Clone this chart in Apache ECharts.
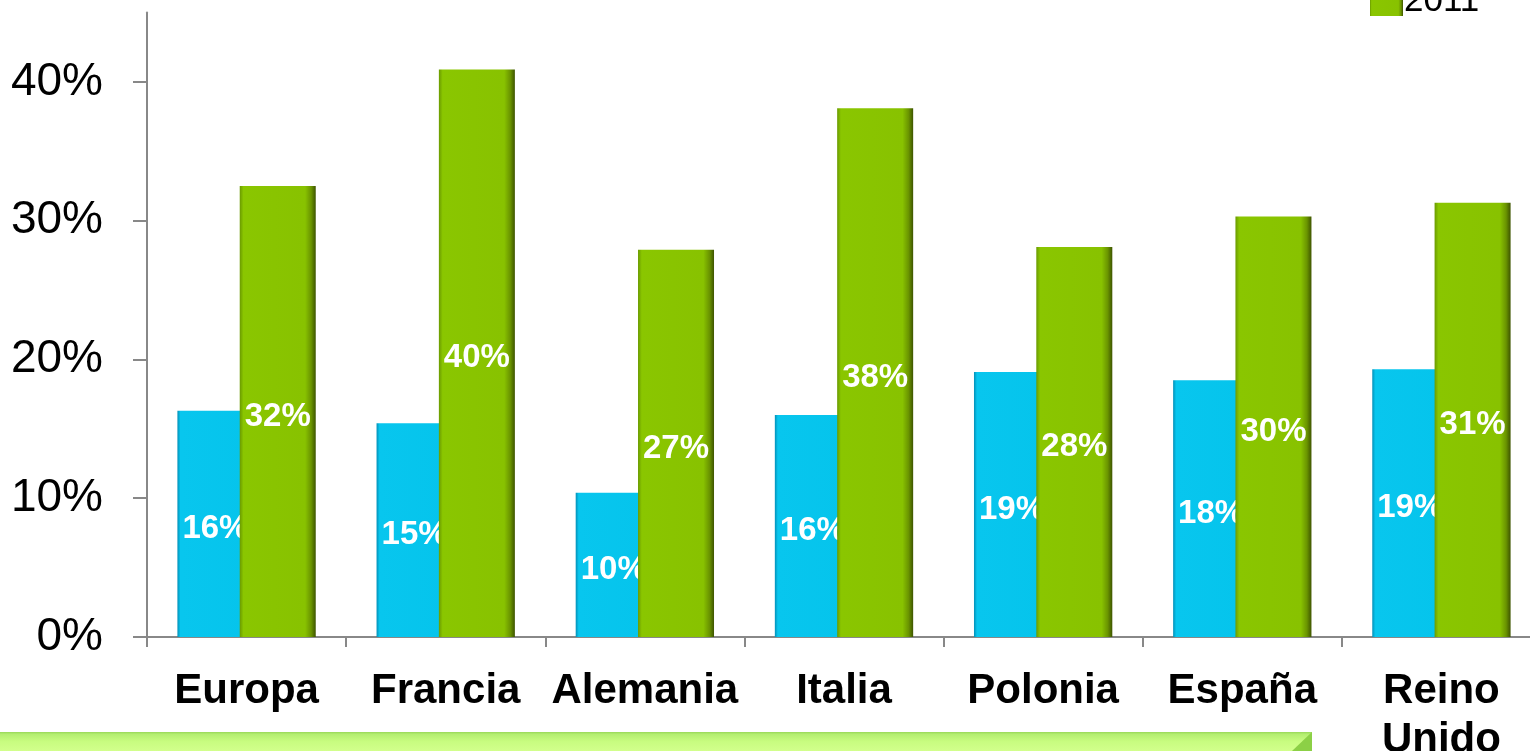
<!DOCTYPE html>
<html>
<head>
<meta charset="utf-8">
<script src="https://cdn.jsdelivr.net/npm/echarts@6/dist/echarts.min.js"></script>
<style>
html,body{margin:0;padding:0;background:#fff;}
#chart{width:1530px;height:751px;}
</style>
</head>
<body>
<div id="chart"></div>
<script>
const categories = ['Europa', 'Francia', 'Alemania', 'Italia', 'Polonia', 'España', 'Reino\nUnido'];
const seriesNames = ['2010', '2011'];
const values2010 = [16.3, 15.4, 10.4, 16.0, 19.1, 18.5, 19.3];
const values2011 = [32.5, 40.9, 27.9, 38.1, 28.1, 30.3, 31.3];
const yTicks = [0, 10, 20, 30, 40];

const FONT = "'Liberation Sans', Arial, sans-serif";
const chart = echarts.init(document.getElementById('chart'));

const blueGrad = new echarts.graphic.LinearGradient(0, 0, 1, 0, [
  {offset: 0, color: '#0390b8'},
  {offset: 0.04, color: '#08c6ee'},
  {offset: 0.92, color: '#05c4ec'},
  {offset: 1, color: '#0aa2c8'}
]);
const greenGrad = new echarts.graphic.LinearGradient(0, 0, 1, 0, [
  {offset: 0, color: '#6a9a00'},
  {offset: 0.05, color: '#8ac600'},
  {offset: 0.86, color: '#88c200'},
  {offset: 0.94, color: '#6a9400'},
  {offset: 1, color: '#3e5400'}
]);

const labelCfg = {
  show: true,
  position: 'inside',
  offset: [0, 5],
  color: '#fff',
  fontFamily: FONT,
  fontWeight: 'bold',
  fontSize: 33,
  formatter: p => Math.floor(p.value) + '%'
};

chart.setOption({
  animation: false,
  backgroundColor: '#fff',
  grid: {left: 147, top: 12.6, width: 1394, bottom: 114, containLabel: false, outerBoundsMode: 'none'},
  legend: {
    data: seriesNames,
    orient: 'vertical',
    left: 1370,
    top: -61,
    padding: 0,
    itemGap: 8,
    itemWidth: 33,
    itemHeight: 30,
    icon: 'rect',
    textStyle: {fontFamily: FONT, fontSize: 35, lineHeight: 36, color: '#000', padding: [0, 0, 0, -4]}
  },
  xAxis: {
    type: 'category',
    data: categories,
    axisLine: {lineStyle: {color: '#888', width: 2}},
    axisTick: {show: true, length: 10, lineStyle: {color: '#888', width: 2}},
    axisLabel: {
      margin: 30,
      color: '#000',
      fontFamily: FONT,
      fontWeight: 'bold',
      fontSize: 42,
      lineHeight: 49,
      interval: 0
    }
  },
  yAxis: {
    type: 'value',
    min: 0,
    max: 45,
    interval: 10,
    axisLine: {show: true, lineStyle: {color: '#888', width: 2}},
    axisTick: {show: true, length: 14, customValues: yTicks, lineStyle: {color: '#888', width: 2}},
    splitLine: {show: false},
    axisLabel: {
      customValues: yTicks,
      margin: 44,
      color: '#000',
      fontFamily: FONT,
      fontSize: 46,
      formatter: v => v + '%'
    }
  },
  series: [
    {
      name: seriesNames[0],
      type: 'bar',
      data: values2010,
      barWidth: 76,
      barGap: '-18%',
      itemStyle: {color: blueGrad},
      label: labelCfg,
      z: 2
    },
    {
      name: seriesNames[1],
      type: 'bar',
      data: values2011,
      barWidth: 76,
      itemStyle: {color: greenGrad},
      label: labelCfg,
      z: 3
    }
  ],
  graphic: [
    {
      type: 'rect',
      shape: {x: 0, y: 732, width: 1312, height: 19},
      style: {
        fill: new echarts.graphic.LinearGradient(0, 0, 0, 1, [
          {offset: 0, color: '#98d858'},
          {offset: 0.12, color: '#b4ee70'},
          {offset: 0.5, color: '#c8fc80'},
          {offset: 1, color: '#d2ff8c'}
        ])
      },
      z: 10
    },
    {
      type: 'polygon',
      shape: {points: [[1312, 732], [1312, 751], [1292, 751]]},
      style: {fill: '#8cd046'},
      z: 11
    }
  ]
});
</script>
</body>
</html>
